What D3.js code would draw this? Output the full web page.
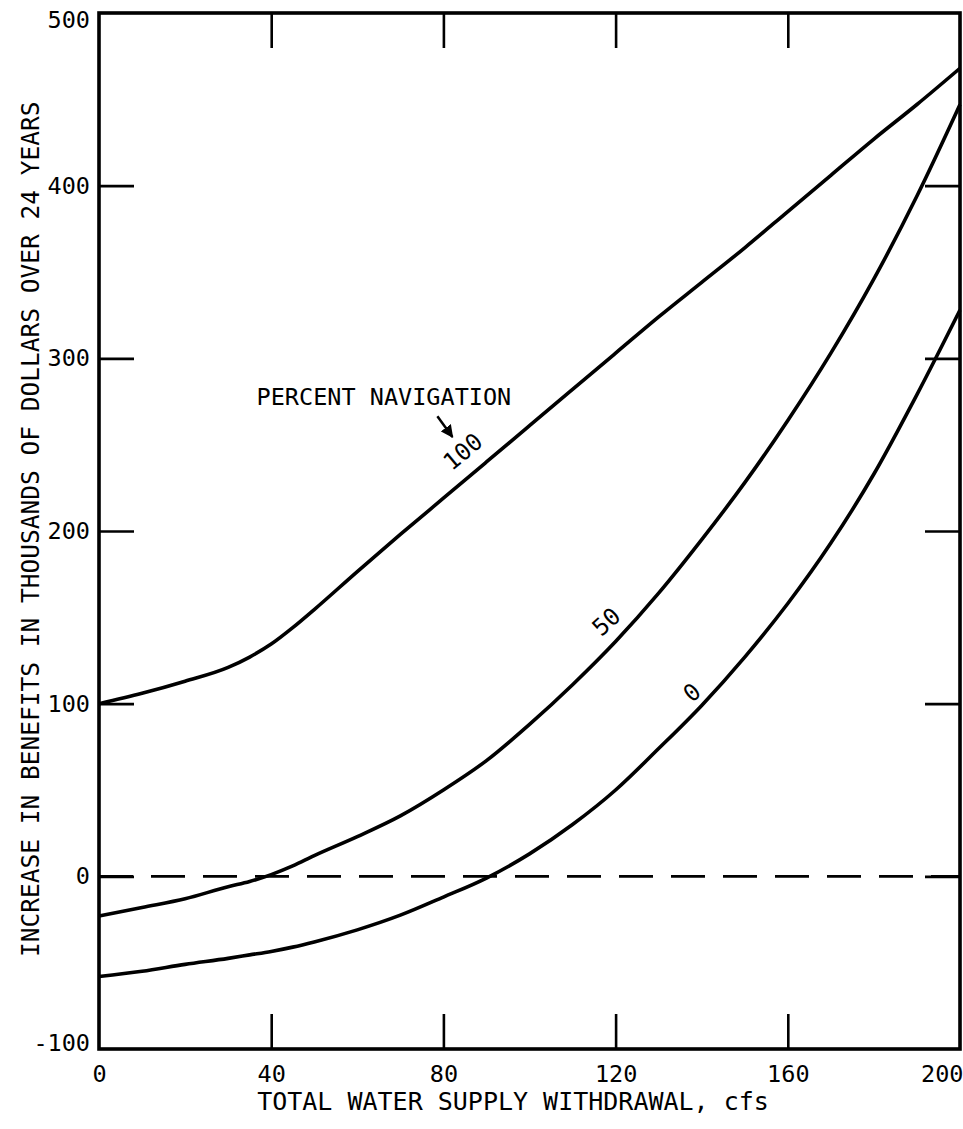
<!DOCTYPE html>
<html>
<head>
<meta charset="utf-8">
<script src="https://cdn.jsdelivr.net/npm/d3@7"></script>
<style>
  body { margin: 0; background: #fff; }
  text { font-family: "DejaVu Sans Mono", "Liberation Mono", monospace; fill: #000; }
</style>
</head>
<body>
<div class="chart"></div>
<script>
var width = 963,
    height = 1129;

var margin = {top: 13, right: 3, bottom: 80, left: 99};

// values
var xTicks = [0, 40, 80, 120, 160, 200];
var yTicks = [-100, 0, 100, 200, 300, 400, 500];

var withdrawal = [0, 10, 20, 30, 35, 40, 45, 50, 60, 70, 80, 90, 100, 110, 120, 130, 140, 150, 160, 170, 180, 190, 200];
var nav100 = [100, 106, 113, 121, 127, 134.5, 144, 154.5, 176.5, 198, 219, 240, 261, 282, 303, 324, 344, 364, 385, 406, 427, 447, 468];
var nav50  = [-23, -18, -13, -6, -3, 1, 6, 12, 23, 35, 50, 67, 88, 111, 136, 164, 195, 228, 264, 303, 346, 394, 447];
var nav0   = [-58, -55, -51, -47.5, -45.5, -43.5, -41, -38, -31, -22.5, -12, -1, 13, 30, 50, 74, 99, 127, 158, 193, 233, 279, 328];

var series = [
    {name: "100", values: nav100},
    {name: "50", values: nav50},
    {name: "0", values: nav0}
];

// label spots in data units
var curveLabels = [
    {text: "100", x: 84.5, y: 246, angle: -40},
    {text: "50", x: 117.8, y: 147.5, angle: -42},
    {text: "0", x: 137.7, y: 106.5, angle: -40}
];

var x = d3.scaleLinear()
          .domain([0, 200])
          .range([margin.left, width - margin.right]);

var y = d3.scaleLinear()
          .domain([-100, 500])
          .range([height - margin.bottom, margin.top]);

var svg = d3.select(".chart").append("svg")
            .attr("width", width)
            .attr("height", height);

var inner = [40, 80, 120, 160];
var innerY = [0, 100, 200, 300, 400];
var plain = function(d) { return String(d); };

// ticks pointing into the frame
var xLabels = svg.append("g")
   .attr("transform", "translate(0," + y(-100) + ")")
   .call(d3.axisBottom(x).tickValues(xTicks).tickSize(0).tickPadding(16).tickFormat(plain))
   .call(g => g.select(".domain").remove());
xLabels.selectAll("text").style("font-size", "23.5px").style("font-family", null);
xLabels.selectAll(".tick").filter(d => d === 200).select("text")
   .attr("text-anchor", "end").attr("x", 3);

svg.append("g")
   .attr("transform", "translate(0," + y(-100) + ")")
   .call(d3.axisBottom(x).tickValues(inner).tickSize(-35).tickFormat(""))
   .call(g => g.select(".domain").remove());

svg.append("g")
   .attr("transform", "translate(0," + y(500) + ")")
   .call(d3.axisTop(x).tickValues(inner).tickSize(-35).tickFormat(""))
   .call(g => g.select(".domain").remove());

var yLabels = svg.append("g")
   .attr("transform", "translate(" + x(0) + ",0)")
   .call(d3.axisLeft(y).tickValues(yTicks).tickSize(0).tickPadding(9).tickFormat(plain))
   .call(g => g.select(".domain").remove());
yLabels.selectAll("text").style("font-size", "23.5px").style("font-family", null);
yLabels.selectAll(".tick").filter(d => d === 500).select("text").attr("y", 7);
yLabels.selectAll(".tick").filter(d => d === -100).select("text").attr("y", -6);

svg.append("g")
   .attr("transform", "translate(" + x(0) + ",0)")
   .call(d3.axisLeft(y).tickValues(innerY).tickSize(-35).tickFormat(""))
   .call(g => g.select(".domain").remove());

svg.append("g")
   .attr("transform", "translate(" + x(200) + ",0)")
   .call(d3.axisRight(y).tickValues(innerY).tickSize(-35).tickFormat(""))
   .call(g => g.select(".domain").remove());

svg.selectAll(".tick line")
   .style("stroke", "#000")
   .style("stroke-width", 2.6);

// dashed zero line
svg.append("line")
   .attr("x1", x(0))
   .attr("x2", x(200))
   .attr("y1", y(0))
   .attr("y2", y(0))
   .style("stroke", "#000")
   .style("stroke-width", 2.6)
   .style("stroke-dasharray", "34,18");

var line = d3.line()
    .x(function(d, i) { return x(withdrawal[i]); })
    .y(function(d) { return y(d); })
    .curve(d3.curveMonotoneX);

svg.selectAll(".curve")
   .data(series)
   .enter().append("path")
   .attr("class", "curve")
   .attr("d", function(d) { return line(d.values); })
   .style("fill", "none")
   .style("stroke", "#000")
   .style("stroke-width", 3.6);

// frame
svg.append("rect")
   .attr("x", x(0))
   .attr("y", y(500))
   .attr("width", x(200) - x(0))
   .attr("height", y(-100) - y(500))
   .style("fill", "none")
   .style("stroke", "#000")
   .style("stroke-width", 3.6);

svg.selectAll(".curve-label")
   .data(curveLabels)
   .enter().append("text")
   .attr("class", "curve-label")
   .attr("transform", function(d) {
       return "translate(" + x(d.x) + "," + y(d.y) + ") rotate(" + d.angle + ")";
   })
   .attr("text-anchor", "middle")
   .attr("dy", "0.35em")
   .style("font-size", "23.5px")
   .text(function(d) { return d.text; });

svg.append("text")
   .attr("x", x(36.6))
   .attr("y", y(273))
   .style("font-size", "23.5px")
   .text("PERCENT NAVIGATION");

// little arrow to the 100 label
svg.append("defs").append("marker")
   .attr("id", "head")
   .attr("viewBox", "0 0 10 10")
   .attr("refX", 9)
   .attr("refY", 5)
   .attr("markerWidth", 5)
   .attr("markerHeight", 5)
   .attr("orient", "auto")
   .append("path")
   .attr("d", "M0,0L10,5L0,10z")
   .style("fill", "#000");

svg.append("line")
   .attr("x1", x(78.6))
   .attr("y1", y(266.5))
   .attr("x2", x(82.1))
   .attr("y2", y(254.5))
   .style("stroke", "#000")
   .style("stroke-width", 2.5)
   .attr("marker-end", "url(#head)");

svg.append("text")
   .attr("x", 513)
   .attr("y", 1110)
   .attr("text-anchor", "middle")
   .style("font-size", "25px")
   .text("TOTAL WATER SUPPLY WITHDRAWAL, cfs");

svg.append("text")
   .attr("transform", "translate(39," + y(201) + ") rotate(-90)")
   .attr("text-anchor", "middle")
   .style("font-size", "24.5px")
   .text("INCREASE IN BENEFITS IN THOUSANDS OF DOLLARS OVER 24 YEARS");
</script>
</body>
</html>
